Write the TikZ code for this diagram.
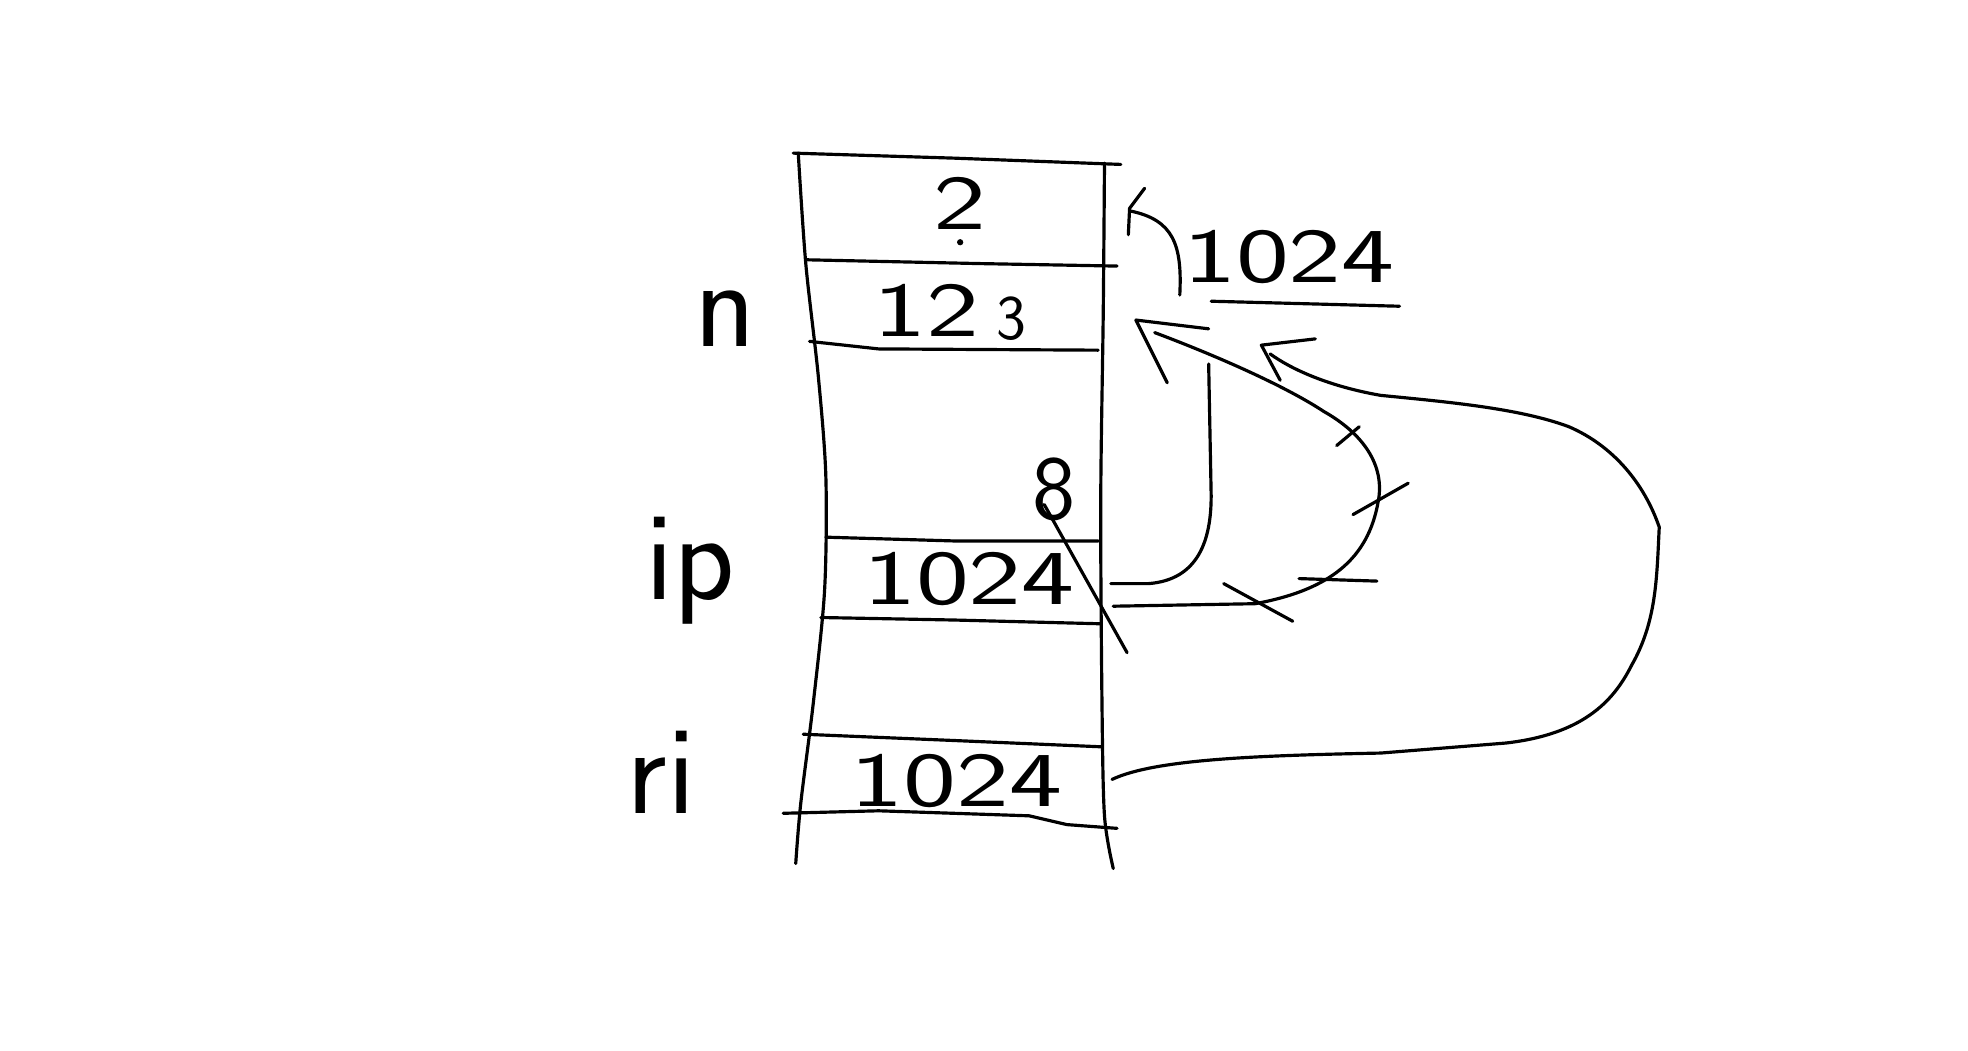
\documentclass[tikz,border=0pt]{standalone}
\begin{document}
\begin{tikzpicture}[x=0.0125cm,y=-0.0125cm, line width=0.9pt, line join=round, line cap=round,
  hand/.style={font=\fontsize{22}{22}\selectfont\sffamily, inner sep=0pt, xscale=1.45},
  lbl/.style={font=\fontsize{36}{36}\selectfont\sffamily, inner sep=0pt}]
\useasboundingbox (0,0) rectangle (1568,837);
\fill[white] (0,0) rectangle (1568,837);
% column sides
\draw plot[smooth] coordinates {(636,122) (642,210) (652,300) (658,380) (657,470) (648,560) (638,640) (634,688)};
\draw plot[smooth] coordinates {(880,130) (879,250) (877,400) (878,560) (880,650) (887,692)};
% cell lines
\draw (632,122) -- (760,126) -- (893,131);
\draw (643,207) -- (780,210) -- (890,212);
\draw (645,272) -- (700,278) -- (875,279);
\draw (658,428) -- (760,431) -- (875,431);
\draw (654,492) -- (760,494) -- (877,497);
\draw (640,585) -- (760,590) -- (877,595);
\draw (624,648) -- (700,646) -- (820,650) -- (850,657) -- (890,660);
% cell contents
\node[hand] (v2) at (765,162) {2};
\fill (765,193) circle (2.5);
\node[hand] (v12) at (738,247) {12};
\node[font=\fontsize{18}{18}\selectfont\sffamily, inner sep=0pt] (v3) at (806,254) {3};
\node[hand] (vip) at (772,461) {1024};
\node[font=\fontsize{26}{26}\selectfont\sffamily, inner sep=0pt] (v8) at (840,390) {8};
\node[hand] (vri) at (762,622) {1024};
\node[hand] (vtop) at (1027,205) {1024};
\draw (965,240) -- (1115,244);
% names
\node[lbl] (ln) at (578,254) {n};
\node[lbl] (lip) at (550,455) {ip};
\node[lbl] (lri) at (527,615) {ri};
% strike through 8
\draw (832,402) -- (898,520);
% small hooked arrow near top
\coordinate (ha) at (940,235);
\coordinate (hb) at (900,168);
\draw (ha) .. controls (942,195) and (935,175) .. (hb);
\draw (912,150) -- (900,166) -- (899,187);
% arrow A: ip -> n
\coordinate (aS) at (885,465);
\coordinate (aT) at (905,255);
\draw (aS) -- (915,465) .. controls (955,462) and (965,430) .. (965,395) -- (963,290);
\draw (930,305) -- (aT) -- (963,262);
% arrow B (crossed out)
\coordinate (bS) at (887,483);
\draw (bS) -- (1000,481) .. controls (1060,470) and (1090,445) .. (1098,400)
  .. controls (1104,370) and (1085,345) .. (1055,328) .. controls (1020,305) and (960,280) .. (920,265);
\draw (1065,355) -- (1083,340);
\draw (1078,410) -- (1122,385);
\draw (975,465) -- (1030,495);
\draw (1035,461) -- (1097,463);
% arrow C: ri -> n
\coordinate (cS) at (886,621);
\coordinate (cT) at (1005,275);
\draw (cS) .. controls (920,605) and (1000,602) .. (1100,600) -- (1200,592)
  .. controls (1260,585) and (1285,560) .. (1300,530) .. controls (1320,495) and (1320,460) .. (1322,420)
  .. controls (1310,385) and (1285,355) .. (1250,340) .. controls (1210,325) and (1150,320) .. (1100,315)
  .. controls (1060,308) and (1030,295) .. (1012,282);
\draw (1048,270) -- (cT) -- (1020,303);
\end{tikzpicture}
\end{document}
